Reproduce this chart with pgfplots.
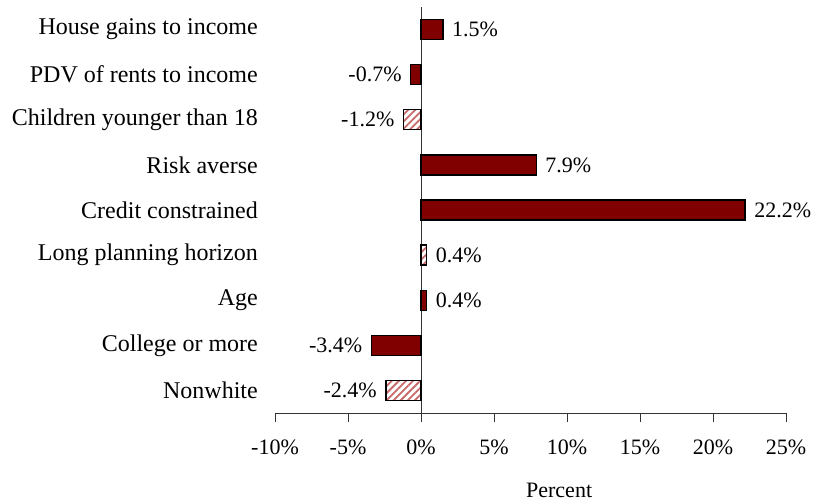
\documentclass[border=0pt]{standalone}
\usepackage{pgfplots}
\pgfplotsset{compat=1.18}
\usepackage{fontspec}
\setmainfont{Liberation Serif}
\usetikzlibrary{patterns.meta}
\definecolor{maroonbar}{RGB}{128,0,0}
\definecolor{hatchred}{RGB}{200,105,105}
\begin{document}
\fontsize{22bp}{26bp}\selectfont
\begin{tikzpicture}[x=1bp,y=1bp]
\useasboundingbox (0,0) rectangle (816,504);
\begin{axis}[
  at={(275bp,91bp)}, anchor=south west,
  scale only axis, width=511bp, height=406bp,
  xmin=-10, xmax=25, ymin=-0.5, ymax=8.5,
  /pgf/number format/assume math mode=true,
  axis x line*=bottom, axis y line*=left,
  y axis line style={draw=none},
  x axis line style={black!80, line width=0.9bp},
  xtick={-10,-5,...,25},
  xticklabel={\pgfmathprintnumber{\tick}\%},
  xtick align=outside, xtick pos=bottom,
  major tick length=9bp,
  xtick style={black!80, line width=0.9bp},
  xticklabel style={inner sep=0pt, yshift=-18bp, font=\fontsize{22bp}{26bp}\selectfont},
  ytick={0,...,8},
  ytick style={draw=none},
  yticklabels={Nonwhite,College or more,Age,Long planning horizon,Credit constrained,Risk averse,Children younger than 18,PDV of rents to income,House gains to income},
  yticklabel style={anchor=east, inner sep=0pt, xshift=-8bp, font=\fontsize{24bp}{28bp}\selectfont},
  extra x ticks={0}, extra x tick labels={},
  extra x tick style={grid=major, major grid style={black!80, line width=0.9bp}},
  xlabel={Percent},
  xlabel style={at={(axis description cs:0.556,-0.19)}, anchor=center, font=\fontsize{22bp}{26bp}\selectfont},
  xbar, bar width=20bp, bar shift=0pt,
  nodes near coords={\pgfmathprintnumber[fixed,fixed zerofill,precision=1]{\pgfplotspointmeta}\%},
  nodes near coords align=horizontal,
  every node near coord/.append style={font=\fontsize{22bp}{26bp}\selectfont, inner sep=8.5bp, text=black},
  clip=false,
]
\addplot[draw=black, line width=1.3bp, fill=maroonbar] coordinates {
  (1.5,8) (-0.7,7) (7.9,5) (22.2,4) (0.4,2) (-3.4,1)
};
\addplot[draw=black, line width=1.3bp, pattern={Lines[angle=45,distance=5bp,line width=1.8bp]}, pattern color=hatchred] coordinates {
  (-1.2,6) (0.4,3) (-2.4,0)
};
\end{axis}
\end{tikzpicture}
\end{document}
